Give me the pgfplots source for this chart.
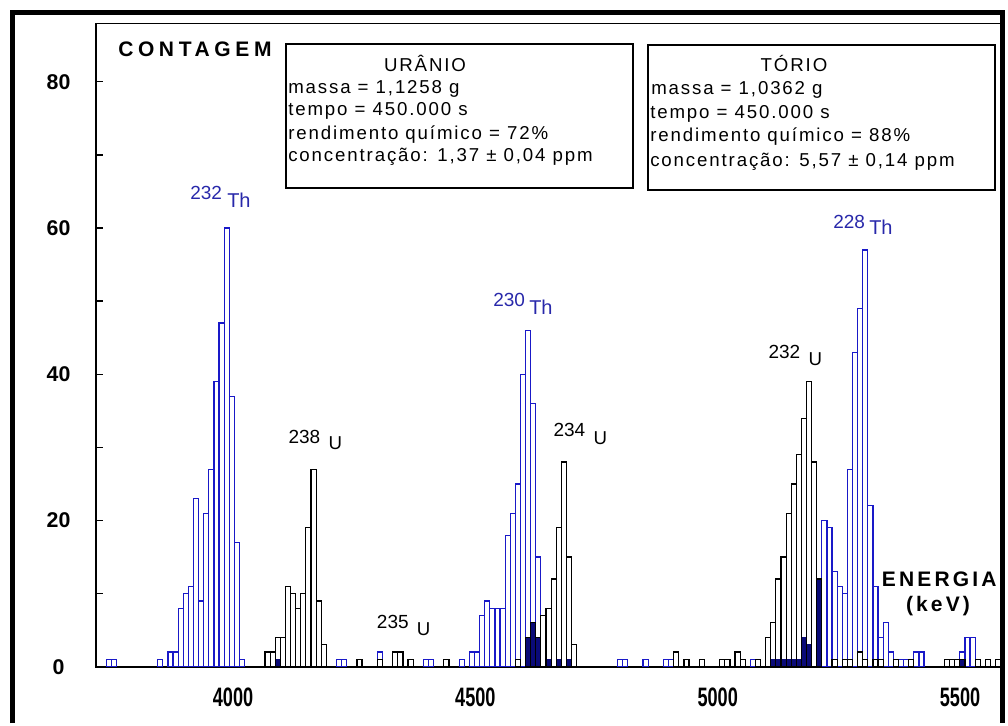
\documentclass[border=0pt]{standalone}
\usepackage{graphicx}
\usepackage{pgfplots}
\pgfplotsset{compat=1.18}
\usepackage{pgfplotstable}
\usepackage{fontspec}
\setmainfont{Liberation Sans}
\newfontfamily\boxfont[LetterSpace=10]{Liberation Sans}
\newfontfamily\sparse[LetterSpace=22]{Liberation Sans}
\newfontfamily\midsparse[LetterSpace=15]{Liberation Sans}
\definecolor{thblue}{RGB}{25,25,200}
\definecolor{lblblue}{RGB}{40,40,170}
\definecolor{ovblue}{RGB}{10,10,120}

% channel k -> energy (keV) = 3892.1 + 10.54 k
\pgfplotstableread{
k n
-14 1
-13 1
-4 1
-2 2
-1 2
0 8
1 10
2 11
3 23
4 9
5 21
6 27
7 39
8 47
9 60
10 37
11 17
12 1
19 1
31 1
32 1
39 2
48 1
49 1
55 1
57 2
58 2
59 7
60 9
61 8
62 8
63 8
64 18
65 21
66 25
67 40
68 46
69 36
70 15
72 1
74 1
76 1
86 1
87 1
91 1
95 1
96 1
112 1
116 1
117 1
118 1
119 1
120 1
121 1
122 4
123 3
125 12
126 20
127 19
128 13
129 11
130 10
131 27
132 43
133 49
134 57
135 22
136 11
137 4
138 6
139 2
141 1
142 1
144 2
145 2
153 2
154 4
155 4
}\thdata

\pgfplotstableread{
k n
17 2
18 2
19 4
20 4
21 11
22 10
23 8
24 10
25 19
26 27
27 9
28 3
35 1
39 1
42 2
43 2
45 1
52 1
66 1
68 4
69 6
70 4
71 7
72 8
73 12
74 19
75 28
76 15
77 3
97 2
99 1
102 1
106 1
107 1
109 2
110 1
113 1
115 4
116 6
117 12
118 15
119 21
120 25
121 29
122 34
123 39
124 28
125 12
128 1
130 1
131 1
133 2
134 1
136 1
137 1
140 1
143 1
150 1
151 1
152 1
153 1
156 1
158 1
160 1
}\udata

\pgfplotstableread{
k n
19 1
68 4
69 6
70 4
72 1
74 1
76 1
116 1
117 1
118 1
119 1
120 1
121 1
122 4
123 3
125 12
153 1
}\ovdata

\begin{document}
\begin{tikzpicture}
\begin{scope}[x=0.75pt,y=-0.75pt]
\path[use as bounding box] (0,0) rectangle (1008,723);
\end{scope}
\begin{axis}[
  at={(72pt,-500.025pt)}, anchor=south west,
  scale only axis, width=678.4pt, height=482.55pt,
  xmin=3717.3, xmax=5583.5, ymin=0, ymax=88,
  axis line style={line width=1.2pt},
  xtick={4000,4500,5000,5500},
  xticklabels={\scalebox{0.68}[1]{4000},\scalebox{0.68}[1]{4500},\scalebox{0.68}[1]{5000},\scalebox{0.68}[1]{5500}},
  ytick={0,20,40,60,80},
  yticklabels={0,20,40,60,80},
  minor ytick={10,30,50,70},
  ytick pos=left, xtick pos=bottom,
  tick align=inside,
  major tick length=5.25pt, minor tick length=5.25pt,
  every tick/.style={black, line width=1pt},
  xtick style={draw=none},
  yticklabel style={font=\bfseries\fontsize{16}{16}\selectfont, anchor=center, xshift=-28.1pt},
  xticklabel style={font=\bfseries\fontsize{20}{20}\selectfont, anchor=center, yshift=-23.1pt},
]
\addplot[ybar, bar width=10.54, bar shift=0pt, draw=thblue, fill=none, line width=0.9pt]
  table[x expr={3892.1+10.54*\thisrow{k}}, y=n]{\thdata};
\addplot[ybar, bar width=10.54, bar shift=0pt, draw=ovblue, fill=ovblue, line width=0.6pt]
  table[x expr={3892.1+10.54*\thisrow{k}}, y=n]{\ovdata};
\addplot[ybar, bar width=10.54, bar shift=0pt, draw=black, fill=none, line width=0.9pt]
  table[x expr={3892.1+10.54*\thisrow{k}}, y=n]{\udata};
\end{axis}
\begin{scope}[x=0.75pt,y=-0.75pt]
% outer frame
\draw[line width=3.75pt] (12.5,723) -- (12.5,12.5) -- (1002.5,12.5) -- (1002.5,723);
% info boxes
\draw[line width=1.5pt, fill=white] (286,44) rectangle (632.7,188.3);
\draw[line width=1.5pt, fill=white] (648.3,45) rectangle (995,190);
\begin{scope}[every node/.style={anchor=base west, inner sep=0pt, font=\boxfont\fontsize{14}{14}\selectfont}]
\node[anchor=base] at (425,71.7) {URÂNIO};
\node at (288,93.3) {massa = 1,1258 g};
\node at (288,116) {tempo = 450.000 s};
\node at (288,139.3) {rendimento químico = 72\%};
\node at (288,161.7) {concentração: 1,37 ± 0,04 ppm};
\node[anchor=base] at (794,71.7) {TÓRIO};
\node at (651,95) {massa = 1,0362 g};
\node at (650,118.3) {tempo = 450.000 s};
\node at (650,141.7) {rendimento químico = 88\%};
\node at (650,166.7) {concentração: 5,57 ± 0,14 ppm};
\end{scope}
% axis titles
\node[anchor=base west, inner sep=0pt, font=\sparse\bfseries\fontsize{15.75}{16}\selectfont] at (118,57) {CONTAGEM};
\node[anchor=base west, inner sep=0pt, font=\midsparse\bfseries\fontsize{15.75}{16}\selectfont] at (881.7,586.7) {ENERGIA};
\node[anchor=base, inner sep=0pt, font=\midsparse\bfseries\fontsize{15.75}{16}\selectfont] at (938,611) {(keV)};
% isotope labels
\begin{scope}[every node/.style={anchor=base west, inner sep=0pt}]
\node[text=lblblue, font=\fontsize{14.25}{15}\selectfont] at (190,200) {232};
\node[text=lblblue, font=\fontsize{15}{15}\selectfont] at (227,208) {Th};
\node[text=lblblue, font=\fontsize{14.25}{15}\selectfont] at (493,306.7) {230};
\node[text=lblblue, font=\fontsize{15}{15}\selectfont] at (529,315) {Th};
\node[text=lblblue, font=\fontsize{14.25}{15}\selectfont] at (833,229) {228};
\node[text=lblblue, font=\fontsize{15}{15}\selectfont] at (869,235) {Th};
\node[font=\fontsize{14.25}{15}\selectfont] at (288.3,443.3) {238};
\node[font=\fontsize{14}{15}\selectfont] at (328.3,450) {U};
\node[font=\fontsize{14.25}{15}\selectfont] at (376.7,628.3) {235};
\node[font=\fontsize{14}{15}\selectfont] at (416.7,635) {U};
\node[font=\fontsize{14.25}{15}\selectfont] at (553.3,436.7) {234};
\node[font=\fontsize{14}{15}\selectfont] at (593.3,445) {U};
\node[font=\fontsize{14.25}{15}\selectfont] at (768.3,358.3) {232};
\node[font=\fontsize{14}{15}\selectfont] at (808.3,365) {U};
\end{scope}
\end{scope}
\end{tikzpicture}
\end{document}
